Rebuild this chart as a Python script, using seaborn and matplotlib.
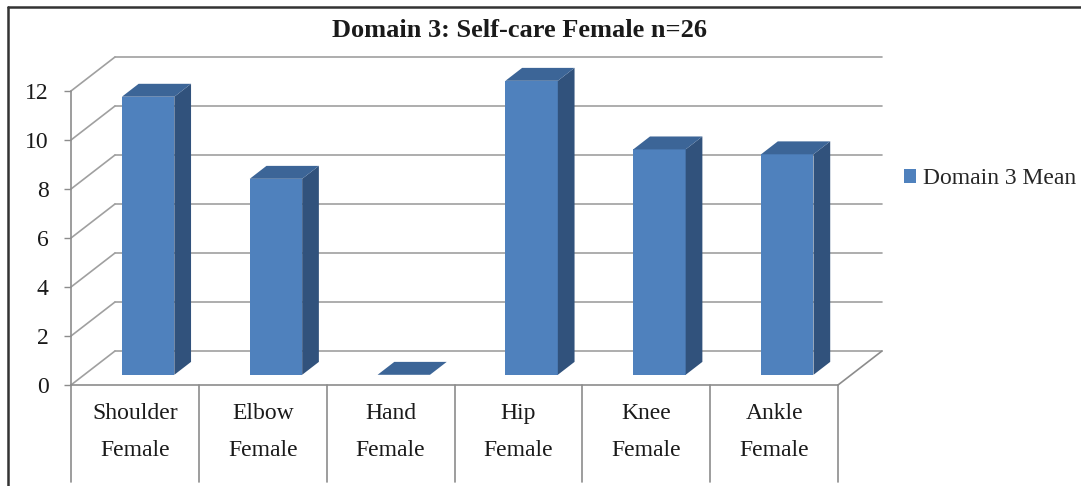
import numpy as np
import matplotlib
matplotlib.use("Agg")
import matplotlib.pyplot as plt
import matplotlib.transforms as mtransforms
from matplotlib.patches import Polygon, Patch
from matplotlib.lines import Line2D
import seaborn as sns

# data
categories = ["Shoulder\nFemale", "Elbow\nFemale", "Hand\nFemale",
              "Hip\nFemale", "Knee\nFemale", "Ankle\nFemale"]
means = [11.35, 8.0, 0.0, 12.0, 9.2, 9.0]
series_name = "Domain 3 Mean"
title = "Domain 3: Self-care Female n=26"
y_ticks = [0, 2, 4, 6, 8, 10, 12]

FRONT = "#4F81BD"
TOP = "#3C6597"
SIDE = "#31527C"
GRID = "#A0A0A0"
AXIS = "#8C8C8C"

W, H = 1081, 486
DX, DY = 44, 34          # depth of the 3D box in pixels
F0, F1 = 0.30, 0.68      # front/back depth of the bars
BAR_W = 0.41

sns.set_theme(style="white")
plt.rcParams["font.family"] = ["Liberation Serif", "DejaVu Serif"]

fig = plt.figure(figsize=(W / 100, H / 100), dpi=100)
ax = fig.add_axes([71 / W, (H - 385) / H, 767 / W, 294 / H])
ax.set_facecolor("none")

sns.barplot(x=categories, y=means, color=FRONT, width=BAR_W, saturation=1,
            ax=ax, zorder=3)
ax.set_xlim(-0.5, len(categories) - 0.5)
ax.set_ylim(0, 12)
for sp in ax.spines.values():
    sp.set_visible(False)
ax.set_xlabel("")
ax.set_ylabel("")


def px(x, y, d):
    p = ax.transData.transform((x, y))
    return (p[0] + d * DX, p[1] + d * DY)


ident = mtransforms.IdentityTransform()


def seg(p, q, color, lw=1.2, z=1):
    ax.add_line(Line2D([p[0], q[0]], [p[1], q[1]], transform=ident,
                       color=color, lw=lw, clip_on=False, zorder=z))


x_lo, x_hi = -0.5, len(categories) - 0.5
# back wall grid and left wall diagonals
for v in y_ticks:
    seg(px(x_lo, v, 1), px(x_hi, v, 1), GRID)
    seg(px(x_lo, v, 0), px(x_lo, v, 1), GRID)
# floor
seg(px(x_lo, 0, 0), px(x_hi, 0, 0), AXIS)
seg(px(x_hi, 0, 0), px(x_hi, 0, 1), AXIS)
# front vertical axis and category dividers
bottom_px = H - 482
seg(px(x_lo, 12, 0), px(x_lo, 0, 0), AXIS)
for k in range(len(categories) + 1):
    top = px(x_lo + k, 0, 0)
    seg(top, (top[0], bottom_px), AXIS)

# move seaborn's front faces to the bars' depth and add the top/side faces
shift = mtransforms.Affine2D().translate(F0 * DX, F0 * DY)
for bar in ax.patches:
    bar.set_transform(ax.transData + shift)
    bar.set_clip_on(False)
    bar.set_edgecolor("none")
    x0 = bar.get_x()
    x1 = x0 + bar.get_width()
    h = bar.get_height()
    top_face = [px(x0, h, F0), px(x1, h, F0), px(x1, h, F1), px(x0, h, F1)]
    side_face = [px(x1, 0, F0), px(x1, h, F0), px(x1, h, F1), px(x1, 0, F1)]
    ax.add_patch(Polygon(side_face, closed=True, transform=ident, fc=SIDE,
                         ec="none", clip_on=False, zorder=3))
    ax.add_patch(Polygon(top_face, closed=True, transform=ident, fc=TOP,
                         ec="none", clip_on=False, zorder=3))

ax.set_yticks(y_ticks)
ax.set_yticklabels([str(v) for v in y_ticks])
ax.tick_params(axis="y", left=True, length=5, width=1, color=AXIS, pad=11,
               labelsize=17, labelcolor="#1a1a1a")
ax.tick_params(axis="x", bottom=False, length=0, pad=13, labelsize=17,
               labelcolor="#1a1a1a")
for lab in ax.get_xticklabels():
    lab.set_linespacing(2.0)

fig.text(520 / W, 1 - 30 / H, title, ha="center", va="center",
         fontsize=19, fontweight="bold", color="#1a1a1a")

fig.legend(handles=[Patch(facecolor=FRONT, edgecolor="none", label=series_name)],
           loc="center left", bbox_to_anchor=(895 / W, 1 - 179 / H),
           frameon=False, fontsize=17, handlelength=0.5, handleheight=0.5,
           handletextpad=0.3, borderaxespad=0)

# outer chart border (left and top visible)
fig.add_artist(Line2D([8 / W, 8 / W], [0, 1 - 7 / H], transform=fig.transFigure,
                      color="#333333", lw=1.8))
fig.add_artist(Line2D([8 / W, 1], [1 - 7 / H, 1 - 7 / H], transform=fig.transFigure,
                      color="#333333", lw=1.8))

fig.savefig("out.png", dpi=100, facecolor="white")
